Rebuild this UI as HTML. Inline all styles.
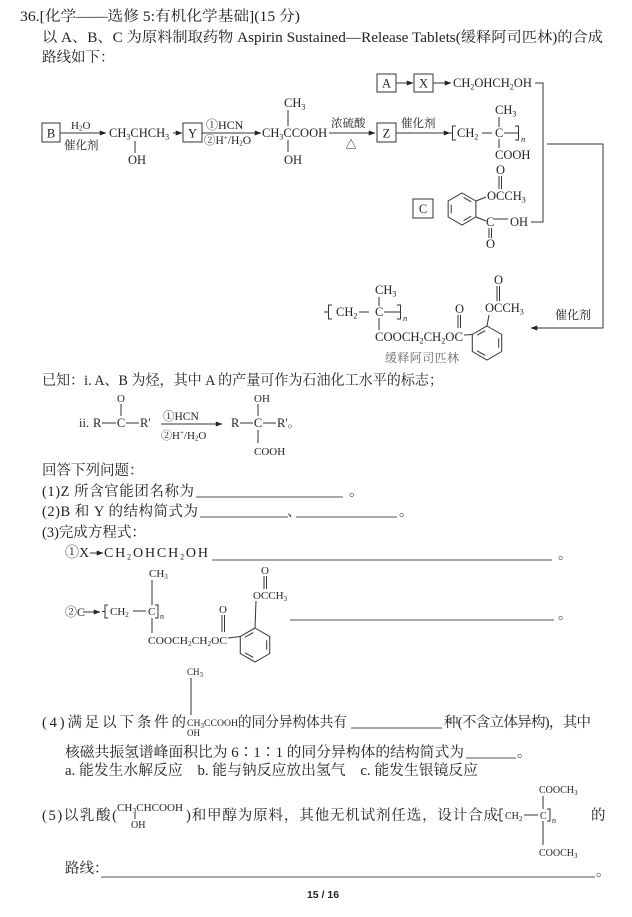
<!DOCTYPE html>
<html><head><meta charset="utf-8">
<style>
html,body{margin:0;padding:0;background:#fff;}
svg{display:block}
.t{font-family:"Liberation Serif","Noto Serif CJK SC",serif;font-size:14.5px;fill:#222}
.c{font-family:"Liberation Serif","Noto Serif CJK SC",serif;font-size:12.5px;fill:#222}
.m{font-family:"Liberation Serif","Noto Serif CJK SC",serif;font-size:11px;fill:#222}
.k{font-family:"Liberation Serif","Noto Serif CJK SC",serif;font-size:10px;fill:#222}
.s{font-size:8px}
.ss{font-size:7px}
.ln{stroke:#333;stroke-width:1;fill:none}
.ul{stroke:#555;stroke-width:0.9;fill:none}
</style></head><body>
<svg width="632" height="917" viewBox="0 0 632 917" xmlns="http://www.w3.org/2000/svg">
<defs><marker id="ah" viewBox="0 0 8 6" refX="7.5" refY="3" markerWidth="7" markerHeight="5" orient="auto" markerUnits="userSpaceOnUse"><path d="M0,0 L8,3 L0,6 z" fill="#222"/></marker></defs>
<rect width="632" height="917" fill="#fff"/>

<!-- header -->
<text class="t" x="20" y="21" textLength="280" lengthAdjust="spacingAndGlyphs">36.[化学——选修 5:有机化学基础](15 分)</text>
<text class="t" x="42" y="42" textLength="561" lengthAdjust="spacingAndGlyphs">以 A、B、C 为原料制取药物 Aspirin Sustained—Release Tablets(缓释阿司匹林)的合成</text>
<text class="t" x="42" y="62">路线如下：</text>

<!-- A -> X -> glycol -->
<rect x="377" y="74" width="19" height="18" class="ln"/>
<text class="c" x="386.5" y="87.5" text-anchor="middle">A</text>
<line x1="396" y1="83" x2="413" y2="83" class="ln" marker-end="url(#ah)"/>
<rect x="414" y="74" width="19" height="18" class="ln"/>
<text class="c" x="423.5" y="87.5" text-anchor="middle">X</text>
<line x1="433" y1="83" x2="451" y2="83" class="ln" marker-end="url(#ah)"/>
<text class="c" x="453" y="87">CH<tspan class="s" dy="2.5">2</tspan><tspan dy="-2.5">OHCH</tspan><tspan class="s" dy="2.5">2</tspan><tspan dy="-2.5">OH</tspan></text>
<path d="M535,83 H543 V222 H531" class="ln"/>

<!-- main row -->
<rect x="42" y="123" width="18" height="19" class="ln"/>
<text class="c" x="51" y="137.5" text-anchor="middle">B</text>
<line x1="60" y1="133" x2="106" y2="133" class="ln" marker-end="url(#ah)"/>
<text class="m" x="71" y="129">H<tspan class="ss" dy="1.5">2</tspan><tspan dy="-1.5">O</tspan></text>
<text class="m" x="64" y="149" style="font-size:11.5px">催化剂</text>
<text class="c" x="109" y="137">CH<tspan class="s" dy="2.5">3</tspan><tspan dy="-2.5">CHCH</tspan><tspan class="s" dy="2.5">3</tspan></text>
<line x1="135" y1="141" x2="135" y2="153" class="ln"/>
<text class="c" x="128" y="164">OH</text>
<line x1="173" y1="133" x2="182" y2="133" class="ln" marker-end="url(#ah)"/>
<rect x="183" y="123" width="19" height="19" class="ln"/>
<text class="c" x="192.5" y="137.5" text-anchor="middle">Y</text>
<line x1="202" y1="133" x2="261" y2="133" class="ln" marker-end="url(#ah)"/>
<text class="m" x="206" y="129" style="font-size:12px">①HCN</text>
<text class="m" x="204" y="144" style="font-size:11.5px">②H<tspan class="ss" dy="-4">+</tspan><tspan dy="4">/H</tspan><tspan class="ss" dy="1.5">2</tspan><tspan dy="-1.5">O</tspan></text>
<text class="c" x="262" y="137">CH<tspan class="s" dy="2.5">3</tspan><tspan dy="-2.5">CCOOH</tspan></text>
<text class="c" x="284" y="107">CH<tspan class="s" dy="2.5">3</tspan></text>
<line x1="288" y1="110" x2="288" y2="126" class="ln"/>
<line x1="288" y1="140" x2="288" y2="152" class="ln"/>
<text class="c" x="284" y="164">OH</text>
<text class="m" x="331" y="127" style="font-size:11.5px">浓硫酸</text>
<text class="m" x="351" y="148" text-anchor="middle">△</text>
<line x1="329" y1="133" x2="375" y2="133" class="ln" marker-end="url(#ah)"/>
<rect x="377" y="123" width="19" height="19" class="ln"/>
<text class="c" x="386.5" y="137.5" text-anchor="middle">Z</text>
<line x1="396" y1="133" x2="450" y2="133" class="ln" marker-end="url(#ah)"/>
<text class="m" x="401" y="127" style="font-size:11.5px">催化剂</text>

<!-- top polymer -->
<path d="M456,126 H452.5 V140 H456 M448,133 H452.5" class="ln"/>
<text class="c" x="457" y="137">CH<tspan class="s" dy="2.5">2</tspan></text>
<line x1="482" y1="133" x2="492" y2="133" class="ln"/>
<text class="c" x="495" y="137">C</text>
<line x1="504" y1="133" x2="518" y2="133" class="ln"/>
<path d="M515,126 H518.5 V140 H515" class="ln"/>
<text class="k" x="521" y="142" style="font-style:italic;font-size:8.5px">n</text>
<text class="c" x="495" y="114">CH<tspan class="s" dy="2.5">3</tspan></text>
<line x1="499" y1="117" x2="499" y2="127" class="ln"/>
<line x1="499" y1="139" x2="499" y2="148" class="ln"/>
<text class="c" x="495" y="159">COOH</text>

<!-- right connector -->
<path d="M547,144 H603 V328 H531" class="ln" marker-end="url(#ah)"/>
<text class="m" x="555" y="319" style="font-size:12px">催化剂</text>

<!-- C box and aspirin -->
<rect x="413" y="199" width="20" height="19" class="ln"/>
<text class="c" x="423" y="213" text-anchor="middle">C</text>
<g transform="translate(462,209)" class="ln">
<polygon points="0,-16 13.86,-8 13.86,8 0,16 -13.86,8 -13.86,-8"/>
<line x1="-10.83" y1="4.4" x2="-10.83" y2="-4.4"/>
<line x1="1.62" y1="-11.56" x2="9.21" y2="-7.19"/>
<line x1="9.21" y1="7.19" x2="1.62" y2="11.56"/>
</g>
<line x1="476" y1="201" x2="486" y2="197" class="ln"/>
<text class="c" x="487" y="200">OCCH<tspan class="s" dy="2.5">3</tspan></text>
<text class="c" x="496" y="174">O</text>
<line x1="499" y1="176" x2="499" y2="189" class="ln"/>
<line x1="501.5" y1="176" x2="501.5" y2="189" class="ln"/>
<line x1="476" y1="217" x2="486" y2="221" class="ln"/>
<text class="c" x="486" y="226">C</text>
<line x1="494" y1="219" x2="508" y2="219" class="ln"/>
<text class="c" x="510" y="226">OH</text>
<line x1="489" y1="228" x2="489" y2="238" class="ln"/>
<line x1="491.5" y1="228" x2="491.5" y2="238" class="ln"/>
<text class="c" x="486" y="248">O</text>

<!-- bottom product -->
<path d="M332,305 H328.5 V319 H332 M324,312 H328.5" class="ln"/>
<text class="c" x="336" y="316">CH<tspan class="s" dy="2.5">2</tspan></text>
<line x1="359" y1="312" x2="369" y2="312" class="ln"/>
<text class="c" x="375" y="316">C</text>
<line x1="384" y1="312" x2="400" y2="312" class="ln"/>
<path d="M397,305 H400.5 V319 H397" class="ln"/>
<text class="k" x="403" y="321" style="font-style:italic;font-size:8.5px">n</text>
<text class="c" x="375" y="294">CH<tspan class="s" dy="2.5">3</tspan></text>
<line x1="379" y1="297" x2="379" y2="306" class="ln"/>
<line x1="379" y1="318" x2="379" y2="330" class="ln"/>
<text class="c" x="375" y="341" textLength="88" lengthAdjust="spacingAndGlyphs">COOCH<tspan class="s" dy="2.5">2</tspan><tspan dy="-2.5">CH</tspan><tspan class="s" dy="2.5">2</tspan><tspan dy="-2.5">OC</tspan></text>
<text class="c" x="455" y="313">O</text>
<line x1="458" y1="315" x2="458" y2="328" class="ln"/>
<line x1="460.5" y1="315" x2="460.5" y2="328" class="ln"/>
<line x1="464" y1="335" x2="472.3" y2="334.5" class="ln"/>
<g transform="translate(487,343)" class="ln">
<polygon points="0,-17 14.72,-8.5 14.72,8.5 0,17 -14.72,8.5 -14.72,-8.5"/>
<line x1="11.69" y1="-4.73" x2="11.69" y2="4.73"/>
<line x1="-1.75" y1="12.49" x2="-9.94" y2="7.76"/>
<line x1="-9.94" y1="-7.76" x2="-1.75" y2="-12.49"/>
</g>
<line x1="487" y1="326" x2="489" y2="315" class="ln"/>
<text class="c" x="485" y="312">OCCH<tspan class="s" dy="2.5">3</tspan></text>
<text class="c" x="494" y="284">O</text>
<line x1="497" y1="286" x2="497" y2="301" class="ln"/>
<line x1="499.5" y1="286" x2="499.5" y2="301" class="ln"/>
<text class="m" x="385" y="362" textLength="74" lengthAdjust="spacing" style="font-size:12px;fill:#666">缓释阿司匹林</text>

<!-- known -->
<text class="t" x="42" y="385" textLength="401" lengthAdjust="spacingAndGlyphs">已知：i. A、B 为烃，其中 A 的产量可作为石油化工水平的标志；</text>
<text class="c" x="79" y="427">ii.</text>
<text class="c" x="93" y="427">R</text>
<line x1="102" y1="423" x2="116" y2="423" class="ln"/>
<text class="c" x="121" y="427" text-anchor="middle">C</text>
<line x1="126" y1="423" x2="139" y2="423" class="ln"/>
<text class="c" x="140" y="427">R'</text>
<text class="m" x="121" y="402" text-anchor="middle">O</text>
<line x1="121" y1="404" x2="121" y2="416" class="ln"/>
<line x1="161" y1="424" x2="222" y2="424" class="ln" marker-end="url(#ah)"/>
<text class="m" x="163" y="420" style="font-size:11.5px">①HCN</text>
<text class="m" x="161" y="439">②H<tspan class="ss" dy="-4">+</tspan><tspan dy="4">/H</tspan><tspan class="ss" dy="1.5">2</tspan><tspan dy="-1.5">O</tspan></text>
<text class="c" x="231" y="427">R</text>
<line x1="240" y1="423" x2="253" y2="423" class="ln"/>
<text class="c" x="258" y="427" text-anchor="middle">C</text>
<line x1="263" y1="423" x2="276" y2="423" class="ln"/>
<text class="c" x="277" y="427">R'。</text>
<text class="m" x="254" y="402">OH</text>
<line x1="258" y1="404" x2="258" y2="416" class="ln"/>
<line x1="258" y1="430" x2="258" y2="443" class="ln"/>
<text class="m" x="254" y="455">COOH</text>

<!-- questions -->
<text class="t" x="42" y="475">回答下列问题：</text>
<text class="t" x="42" y="496" textLength="152" lengthAdjust="spacing">(1)Z 所含官能团名称为</text>
<line x1="196" y1="497" x2="343" y2="497" class="ul"/>
<text class="t" x="349" y="496">。</text>
<text class="t" x="42" y="516" textLength="156" lengthAdjust="spacing">(2)B 和 Y 的结构简式为</text>
<line x1="200" y1="517" x2="288" y2="517" class="ul"/>
<text class="t" x="287" y="516">、</text>
<line x1="296" y1="517" x2="397" y2="517" class="ul"/>
<text class="t" x="399" y="516">。</text>
<text class="t" x="42" y="537">(3)完成方程式：</text>

<text class="t" x="65" y="557" style="font-size:14px">①X</text>
<line x1="90" y1="553" x2="103" y2="553" class="ln" marker-end="url(#ah)"/>
<text class="t" x="104" y="557" style="font-size:14px" textLength="104" lengthAdjust="spacing">CH<tspan class="s" dy="2.5">2</tspan><tspan dy="-2.5">OHCH</tspan><tspan class="s" dy="2.5">2</tspan><tspan dy="-2.5">OH</tspan></text>
<line x1="212" y1="560" x2="552" y2="560" class="ul"/>
<text class="t" x="558" y="559">。</text>

<!-- (3)② -->
<text class="m" x="65" y="616" style="font-size:12px">②C</text>
<line x1="83" y1="612" x2="100" y2="612" class="ln" marker-end="url(#ah)"/>
<path d="M108,605 H105 V618 H108 M102,611.5 H105" class="ln"/>
<text class="m" x="110" y="615">CH<tspan class="ss" dy="2">2</tspan></text>
<line x1="133" y1="611" x2="146" y2="611" class="ln"/>
<text class="m" x="148" y="615">C</text>
<path d="M155,605 H158 V618 H155" class="ln"/>
<text class="k" x="160" y="619" style="font-style:italic;font-size:8px">n</text>
<text class="m" x="149" y="577">CH<tspan class="ss" dy="2">3</tspan></text>
<line x1="152" y1="580" x2="152" y2="605" class="ln"/>
<line x1="152" y1="618" x2="152" y2="633" class="ln"/>
<text class="m" x="148" y="644" textLength="79" lengthAdjust="spacingAndGlyphs">COOCH<tspan class="ss" dy="2">2</tspan><tspan dy="-2">CH</tspan><tspan class="ss" dy="2">2</tspan><tspan dy="-2">OC</tspan></text>
<text class="m" x="223" y="613" text-anchor="middle">O</text>
<line x1="222" y1="615" x2="222" y2="632" class="ln"/>
<line x1="224.5" y1="615" x2="224.5" y2="632" class="ln"/>
<line x1="228" y1="638" x2="240.3" y2="636.5" class="ln"/>
<g transform="translate(255,645)" class="ln">
<polygon points="0,-17 14.72,-8.5 14.72,8.5 0,17 -14.72,8.5 -14.72,-8.5"/>
<line x1="11.69" y1="-4.73" x2="11.69" y2="4.73"/>
<line x1="-1.75" y1="12.49" x2="-9.94" y2="7.76"/>
<line x1="-9.94" y1="-7.76" x2="-1.75" y2="-12.49"/>
</g>
<line x1="255" y1="628" x2="256" y2="601" class="ln"/>
<text class="m" x="253" y="599">OCCH<tspan class="ss" dy="2">3</tspan></text>
<text class="m" x="265" y="574" text-anchor="middle">O</text>
<line x1="264" y1="576" x2="264" y2="589" class="ln"/>
<line x1="266.5" y1="576" x2="266.5" y2="589" class="ln"/>
<line x1="290" y1="620" x2="554" y2="620" class="ul"/>
<text class="t" x="558" y="619">。</text>

<!-- (4) -->
<text class="k" x="187" y="675" style="font-size:9px">CH<tspan class="ss" dy="2">3</tspan></text>
<line x1="191" y1="678" x2="191" y2="715" class="ln"/>
<text class="t" x="42" y="727" textLength="144" lengthAdjust="spacing">(4)满足以下条件的</text>
<text class="k" x="187" y="726" textLength="51" lengthAdjust="spacingAndGlyphs" style="font-size:9.5px">CH<tspan class="ss" dy="2">3</tspan><tspan dy="-2">CCOOH</tspan></text>
<text class="k" x="187" y="736" style="font-size:9px">OH</text>
<text class="t" x="238" y="727" textLength="109" lengthAdjust="spacingAndGlyphs">的同分异构体共有</text>
<line x1="351" y1="728" x2="442" y2="728" class="ul"/>
<text class="t" x="444" y="727" textLength="147" lengthAdjust="spacing">种(不含立体异构)，其中</text>
<text class="t" x="65" y="757" textLength="399" lengthAdjust="spacingAndGlyphs">核磁共振氢谱峰面积比为 6∶1∶1 的同分异构体的结构简式为</text>
<line x1="466" y1="758" x2="516" y2="758" class="ul"/>
<text class="t" x="517" y="757">。</text>
<text class="t" x="65" y="775" textLength="413" lengthAdjust="spacingAndGlyphs">a. 能发生水解反应　b. 能与钠反应放出氢气　c. 能发生银镜反应</text>

<!-- (5) -->
<text class="k" x="539" y="793">COOCH<tspan class="ss" dy="2">3</tspan></text>
<line x1="543" y1="796" x2="543" y2="809" class="ln"/>
<text class="t" x="42" y="820" textLength="75" lengthAdjust="spacing">(5)以乳酸(</text>
<text class="k" x="117" y="811" textLength="66" lengthAdjust="spacingAndGlyphs">CH<tspan class="ss" dy="2">3</tspan><tspan dy="-2">CHCOOH</tspan></text>
<line x1="135" y1="813" x2="135" y2="819" class="ln"/>
<text class="k" x="131" y="828">OH</text>
<text class="t" x="186" y="820" textLength="312" lengthAdjust="spacing">)和甲醇为原料，其他无机试剂任选，设计合成</text>
<path d="M503,809 H500 V821 H503 M497,815 H500" class="ln"/>
<text class="k" x="505" y="819">CH<tspan class="ss" dy="2">2</tspan></text>
<line x1="524" y1="815" x2="538" y2="815" class="ln"/>
<text class="k" x="540" y="819">C</text>
<path d="M547,809 H550 V821 H547" class="ln"/>
<text class="k" x="552" y="823" style="font-style:italic;font-size:8px">n</text>
<line x1="543" y1="821" x2="543" y2="845" class="ln"/>
<text class="k" x="539" y="856">COOCH<tspan class="ss" dy="2">3</tspan></text>
<text class="t" x="591" y="820">的</text>
<text class="t" x="65" y="873">路线：</text>
<line x1="101" y1="877" x2="595" y2="877" class="ul"/>
<text class="t" x="596" y="876">。</text>
<text x="323" y="898" text-anchor="middle" style="font-family:'Liberation Sans',sans-serif;font-size:10.5px;font-weight:bold;fill:#222">15 / 16</text>
</svg>
</body></html>
